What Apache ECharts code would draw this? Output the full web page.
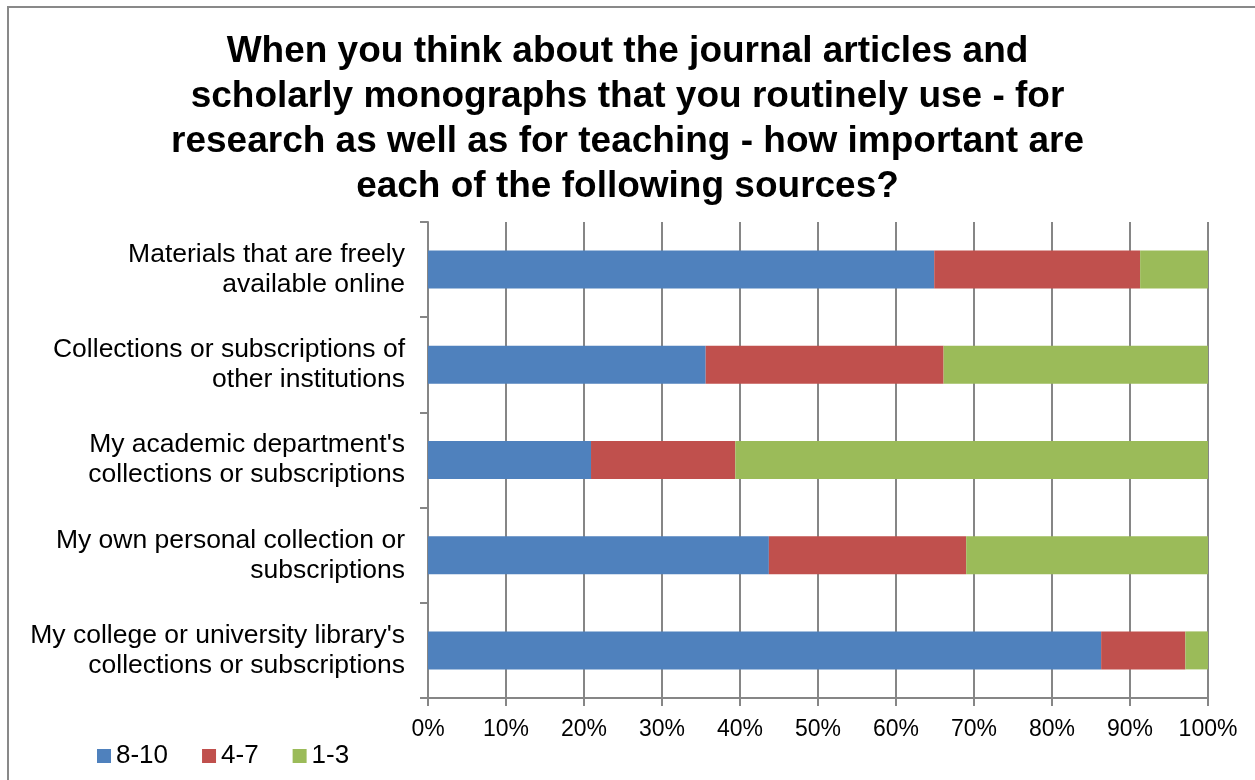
<!DOCTYPE html>
<html>
<head>
<meta charset="utf-8">
<script src="https://cdn.jsdelivr.net/npm/echarts@6/dist/echarts.min.js"></script>
<style>
  html, body { margin: 0; padding: 0; background: #fff; }
  #chart { width: 1255px; height: 780px; }
</style>
</head>
<body>
<div id="chart"></div>
<script>
// categories, top to bottom as in the picture
const categories = [
  'Materials that are freely\navailable online',
  'Collections or subscriptions of\nother institutions',
  "My academic department's\ncollections or subscriptions",
  'My own personal collection or\nsubscriptions',
  "My college or university library's\ncollections or subscriptions"
]
const seriesNames = ['8-10', '4-7', '1-3']
const high = [64.9, 35.6, 20.9, 43.7, 86.3]
const mid = [26.4, 30.5, 18.5, 25.3, 10.8]
const low = [8.7, 33.9, 60.6, 31.0, 2.9]
const colors = ['#4F81BD', '#C0504D', '#9BBB59']

const font = 'Liberation Sans, Arial, sans-serif'
const gridColor = '#868686'

const chart = echarts.init(document.getElementById('chart'))
chart.setOption({
  animation: false,
  color: colors,
  textStyle: { fontFamily: font },
  title: {
    text: 'When you think about the journal articles and\nscholarly monographs that you routinely use - for\nresearch as well as for teaching - how important are\neach of the following sources?',
    left: 'center',
    top: 24,
    textStyle: {
      fontFamily: font,
      fontSize: 37,
      fontWeight: 'bold',
      color: '#000',
      lineHeight: 45
    }
  },
  legend: {
    left: 92,
    top: 738,
    icon: 'rect',
    itemWidth: 14,
    itemHeight: 14,
    itemGap: 34,
    itemTextGap: 6,
    textStyle: { fontSize: 26, color: '#000', fontFamily: font }
  },
  grid: {
    left: 428,
    right: 47,
    top: 222,
    bottom: 82
  },
  xAxis: {
    type: 'value',
    min: 0,
    max: 100,
    interval: 10,
    axisLabel: {
      formatter: '{value}%',
      fontSize: 23,
      color: '#000',
      margin: 20
    },
    axisLine: { show: true, lineStyle: { color: gridColor, width: 2 } },
    axisTick: { show: true, length: 8, lineStyle: { color: gridColor, width: 2 } },
    splitLine: { show: true, lineStyle: { color: gridColor, width: 2 } }
  },
  yAxis: {
    type: 'category',
    inverse: true,
    data: categories,
    axisLabel: {
      fontSize: 26.5,
      color: '#000',
      lineHeight: 30,
      margin: 23,
      align: 'right'
    },
    axisLine: { show: true, lineStyle: { color: gridColor, width: 2 } },
    axisTick: { show: true, length: 8, lineStyle: { color: gridColor, width: 2 } }
  },
  series: [high, mid, low].map((vals, i) => ({
    name: seriesNames[i],
    type: 'bar',
    stack: 'total',
    barWidth: 38,
    data: vals
  })),
  graphic: [{
    type: 'rect',
    shape: { x: 8, y: 7, width: 1300, height: 800 },
    style: { fill: 'none', stroke: '#898989', lineWidth: 2 },
    silent: true
  }]
})
</script>
</body>
</html>
